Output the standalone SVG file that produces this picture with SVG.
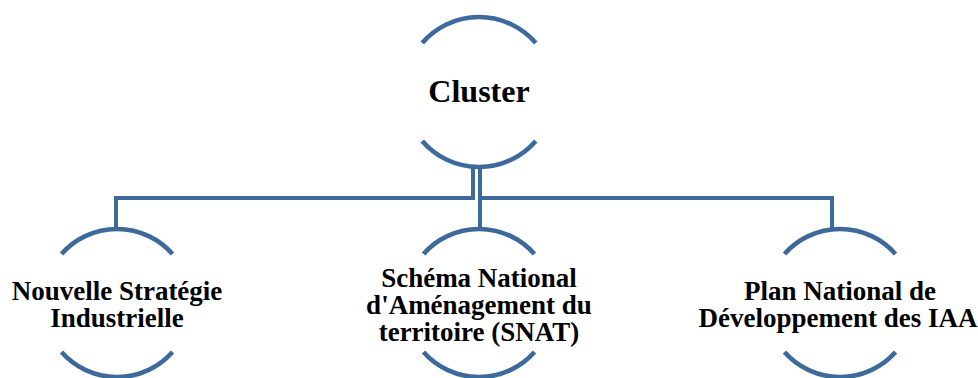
<svg xmlns="http://www.w3.org/2000/svg" width="978" height="378" viewBox="0 0 978 378">
<style>
.arc{fill:none;stroke:#3E6A9B;stroke-width:4.6}
.conn{fill:none;stroke:#3E6A9B;stroke-width:4;stroke-linejoin:miter}
text{font-family:"Liberation Serif","Times New Roman",serif;font-weight:bold;fill:#000;text-anchor:middle}
.t1{font-size:32px}
.t2{font-size:27px}
</style>
<rect width="978" height="378" fill="#fff"/>
<g id="connectors">
<path class="conn" d="M473,166 V198 H116 V229"/>
<path class="conn" d="M480,166 V229"/>
<path class="conn" d="M480,166 V198 H832 V229"/>
</g>
<g id="cluster">
<path class="arc" d="M422.2,43 A75,75 0 0 1 535.8,43"/>
<path class="arc" d="M422.2,141 A75,75 0 0 0 535.8,141"/>
<text class="t1" x="479" y="102">Cluster</text>
</g>
<g id="nsi">
<path class="arc" d="M61.5,254 A74,74 0 0 1 172.5,254"/>
<path class="arc" d="M61.5,352 A74,74 0 0 0 172.5,352"/>
<text class="t2" x="117" y="299.5">Nouvelle Stratégie</text>
<text class="t2" x="117" y="326.5">Industrielle</text>
</g>
<g id="snat">
<path class="arc" d="M423.5,254 A74,74 0 0 1 534.5,254"/>
<path class="arc" d="M423.5,352 A74,74 0 0 0 534.5,352"/>
<text class="t2" x="479" y="286.5">Schéma National</text>
<text class="t2" x="479" y="313.5">d'Aménagement du</text>
<text class="t2" x="479" y="340.5">territoire (SNAT)</text>
</g>
<g id="pndiaa">
<path class="arc" d="M784.5,254 A74,74 0 0 1 895.5,254"/>
<path class="arc" d="M784.5,352 A74,74 0 0 0 895.5,352"/>
<text class="t2" x="840" y="300">Plan National de</text>
<text class="t2" x="838" y="327">Développement des IAA</text>
</g>
</svg>
